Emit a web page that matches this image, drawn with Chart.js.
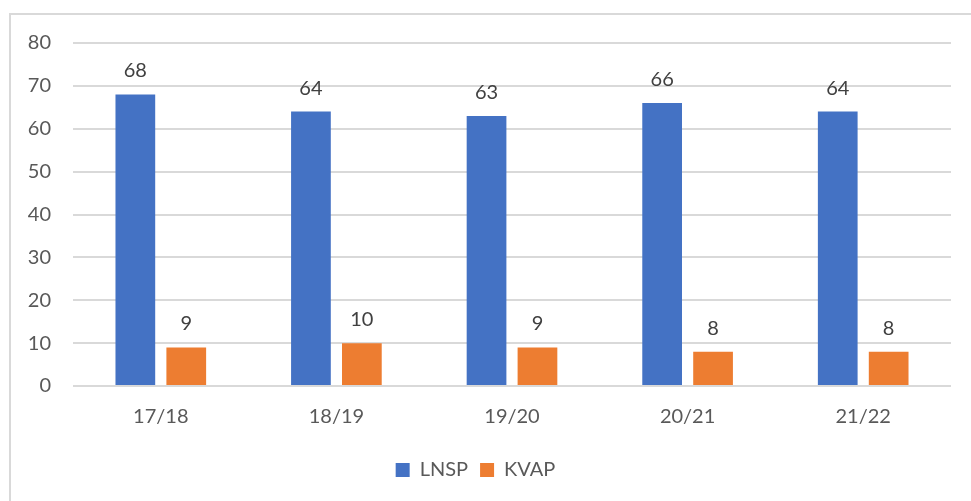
<!DOCTYPE html>
<html lang="en">
<head>
    <meta charset="UTF-8">
    <title>LNSP / KVAP</title>
    <script src="https://cdn.jsdelivr.net/npm/chart.js"></script>
    <style>
        html, body {
            margin: 0;
            padding: 0;
            background: #fff;
        }
        #wrap {
            width: 971px;
            height: 501px;
        }
    </style>
</head>
<body>
    <div id="wrap"><canvas id="barChart" width="971" height="501"></canvas></div>

    <script>
        // values
        const years = ['17/18', '18/19', '19/20', '20/21', '21/22'];
        const lnsp = [68, 64, 63, 66, 64];
        const kvap = [9, 10, 9, 8, 8];

        const fontName = 'Lato, "Open Sans", sans-serif';

        // light grey frame round the chart, like the Excel chart area
        const frame = {
            id: 'frame',
            beforeDraw(chart) {
                const c = chart.ctx;
                c.save();
                c.strokeStyle = '#d9d9d9';
                c.lineWidth = 2;
                c.strokeRect(10, 14, 1000, 600);
                c.restore();
            }
        };

        // numbers above each bar
        const valueLabels = {
            id: 'valueLabels',
            afterDatasetsDraw(chart) {
                const c = chart.ctx;
                c.save();
                c.font = '20px ' + fontName;
                c.fillStyle = '#404040';
                c.textAlign = 'center';
                c.textBaseline = 'alphabetic';
                chart.data.datasets.forEach((ds, i) => {
                    chart.getDatasetMeta(i).data.forEach((bar, j) => {
                        c.fillText(ds.data[j], bar.x, bar.y - 17);
                    });
                });
                c.restore();
            }
        };

        new Chart(document.getElementById('barChart'), {
            type: 'bar',
            data: {
                labels: years,
                datasets: [{
                    label: 'LNSP',
                    data: lnsp,
                    backgroundColor: '#4472C4'
                }, {
                    label: 'KVAP',
                    data: kvap,
                    backgroundColor: '#ED7D31'
                }]
            },
            options: {
                responsive: false,
                animation: false,
                categoryPercentage: 0.58,
                barPercentage: 0.78,
                layout: {
                    padding: { top: 43, right: 20, left: 0, bottom: 11 }
                },
                plugins: {
                    tooltip: { enabled: false },
                    legend: {
                        position: 'bottom',
                        labels: {
                            boxWidth: 14,
                            boxHeight: 14,
                            padding: 12,
                            color: '#595959',
                            font: { family: fontName, size: 20 }
                        }
                    }
                },
                scales: {
                    x: {
                        grid: { display: false, drawTicks: false },
                        border: { display: false },
                        ticks: {
                            color: '#595959',
                            padding: 19,
                            font: { family: fontName, size: 20 }
                        },
                        afterFit(scale) { scale.height = 62; }
                    },
                    y: {
                        min: 0,
                        max: 80,
                        grid: { color: '#d9d9d9', lineWidth: 2, drawTicks: false },
                        border: { display: false },
                        ticks: {
                            stepSize: 10,
                            color: '#595959',
                            padding: 22,
                            font: { family: fontName, size: 20 }
                        },
                        afterFit(scale) { scale.width = 73; }
                    }
                }
            },
            plugins: [frame, valueLabels]
        });
    </script>
</body>
</html>
